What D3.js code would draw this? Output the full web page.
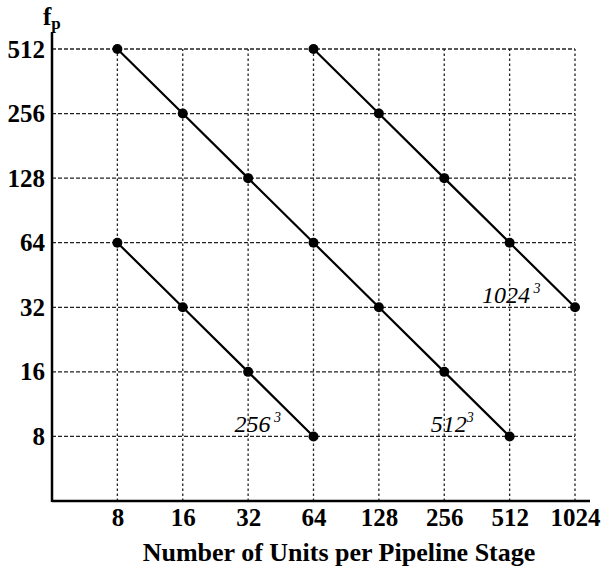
<!DOCTYPE html>
<html lang="en">
<head>
    <meta charset="UTF-8">
    <script src="https://d3js.org/d3.v7.min.js"></script>
    <style>
        body { margin: 0; background: #fff; }
        text { font-family: "Liberation Serif", "Times New Roman", serif; }
    </style>
</head>
<body>
<div id="graph-div"></div>
<script>
    // data
    const xTicks = [8, 16, 32, 64, 128, 256, 512, 1024];
    const yTicks = [8, 16, 32, 64, 128, 256, 512];
    const s256 = [[8, 64], [16, 32], [32, 16], [64, 8]];
    const s512 = [[8, 512], [16, 256], [32, 128], [64, 64], [128, 32], [256, 16], [512, 8]];
    const s1024 = [[64, 512], [128, 256], [256, 128], [512, 64], [1024, 32]];
    const seriesLabels = ["256", "512", "1024"];

    const w = 604, h = 572;

    const xScale = d3.scaleLog().base(2).domain([4, 1024]).range([52, 575]);
    const yScale = d3.scaleLog().base(2).domain([4, 512]).range([501, 49]);

    const svg = d3.select("#graph-div").append("svg")
        .attr("width", w).attr("height", h);

    // grid
    svg.append("g").selectAll("line")
        .data(xTicks).enter().append("line")
        .attr("x1", d => xScale(d)).attr("x2", d => xScale(d))
        .attr("y1", yScale(4)).attr("y2", yScale(512))
        .attr("stroke", "#222").attr("stroke-width", 1.3)
        .attr("stroke-dasharray", "2.5,2.5");
    svg.append("g").selectAll("line")
        .data(yTicks).enter().append("line")
        .attr("y1", d => yScale(d)).attr("y2", d => yScale(d))
        .attr("x1", xScale(4)).attr("x2", xScale(1024))
        .attr("stroke", "#222").attr("stroke-width", 1.3)
        .attr("stroke-dasharray", "4,2");

    // axes
    const xAxis = d3.axisBottom(xScale).tickValues(xTicks).tickSize(0).tickPadding(7).tickFormat(d3.format("d"));
    const yAxis = d3.axisLeft(yScale).tickValues(yTicks).tickSize(0).tickPadding(7).tickFormat(d3.format("d"));

    const gx = svg.append("g").attr("transform", "translate(0," + yScale(4) + ")").call(xAxis);
    gx.select(".domain").remove();
    gx.selectAll("text").style("font-size", "25px").style("font-weight", "bold")
        .style("font-family", "'Liberation Serif', serif").attr("fill", "#000");

    const gy = svg.append("g").attr("transform", "translate(" + xScale(4) + ",0)").call(yAxis);
    gy.select(".domain").remove();
    gy.selectAll("text").style("font-size", "25px").style("font-weight", "bold")
        .style("font-family", "'Liberation Serif', serif").attr("fill", "#000");

    svg.append("line")
        .attr("x1", xScale(4)).attr("x2", 590)
        .attr("y1", yScale(4)).attr("y2", yScale(4))
        .attr("stroke", "#000").attr("stroke-width", 2.5);
    svg.append("line")
        .attr("x1", xScale(4)).attr("x2", xScale(4))
        .attr("y1", yScale(4) + 1).attr("y2", 32)
        .attr("stroke", "#000").attr("stroke-width", 2.5);

    // series
    const line = d3.line().x(d => xScale(d[0])).y(d => yScale(d[1]));
    [s256, s512, s1024].forEach(s => {
        svg.append("path").datum(s)
            .attr("d", line)
            .attr("fill", "none").attr("stroke", "#000").attr("stroke-width", 2.2);
        svg.append("g").selectAll("circle")
            .data(s).enter().append("circle")
            .attr("cx", d => xScale(d[0])).attr("cy", d => yScale(d[1]))
            .attr("r", 5).attr("fill", "#000");
    });

    // labels
    const labelPos = [[s256[3], -79, -4], [s512[6], -79, -4], [s1024[4], -93, -4]];
    labelPos.forEach((p, i) => {
        const t = svg.append("text")
            .attr("x", xScale(p[0][0]) + p[1])
            .attr("y", yScale(p[0][1]) + p[2])
            .style("font-size", "24px").style("font-style", "italic");
        t.append("tspan").text(seriesLabels[i]);
        t.append("tspan").text(i === 1 ? "3" : " 3").attr("dy", -10).style("font-size", "14px");
    });

    // f_p
    const fp = svg.append("text").attr("x", 43).attr("y", 25)
        .style("font-size", "25px").style("font-weight", "bold");
    fp.append("tspan").text("f");
    fp.append("tspan").text("p").attr("dy", 4).style("font-size", "17px");

    svg.append("text")
        .text("Number of Units per Pipeline Stage")
        .attr("x", 339).attr("y", 561)
        .attr("text-anchor", "middle")
        .style("font-size", "26px").style("font-weight", "bold");
</script>
</body>
</html>
